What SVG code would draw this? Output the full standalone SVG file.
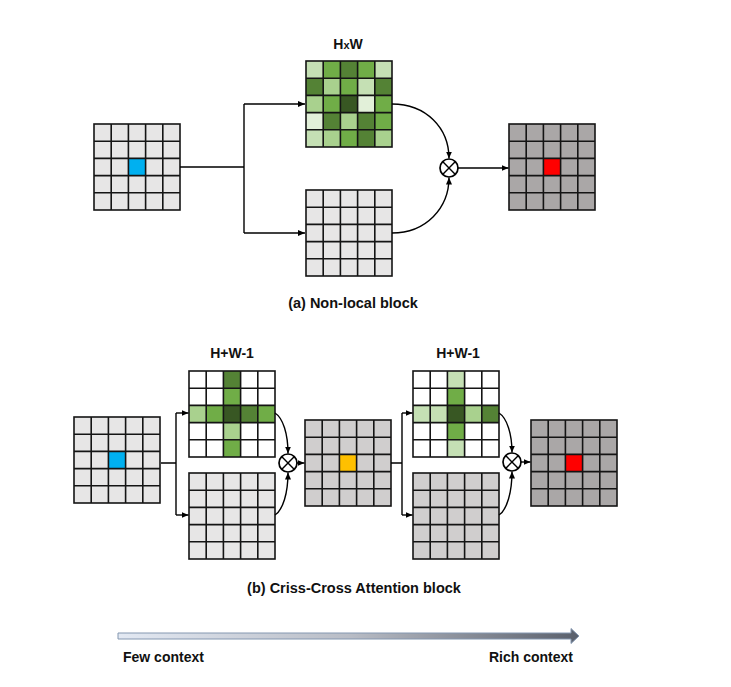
<svg xmlns="http://www.w3.org/2000/svg" xmlns:xlink="http://www.w3.org/1999/xlink" width="731" height="687" viewBox="0 0 731 687">
<style>
.gl{stroke:#141414;stroke-width:1.6;fill:none}
.c{stroke:#000;stroke-width:1.4;fill:none}
.op{stroke:#000;stroke-width:1.7;fill:#fff}
.t{font-family:"Liberation Sans",Arial,sans-serif;font-weight:bold;fill:#111}
.L{fill:#c5e0b4}.M{fill:#70ad47}.D{fill:#548235}.LM{fill:#a9d18e}.DD{fill:#385723}.VL{fill:#e2f0d9}
</style>
<defs>
<marker id="ah" markerWidth="7" markerHeight="6" refX="7" refY="3" orient="auto" markerUnits="userSpaceOnUse">
<path d="M0,0 L7,3 L0,6 Z" fill="#000"/>
</marker>
<linearGradient id="gr" x1="0" y1="0" x2="1" y2="0">
<stop offset="0" stop-color="#e3e9f3"/>
<stop offset="0.5" stop-color="#b9bdc6"/>
<stop offset="1" stop-color="#5a606c"/>
</linearGradient>
<g id="grid">
<rect x="0" y="0" width="86" height="86" class="gl"/>
<path class="gl" d="M17.2,0V86M34.4,0V86M51.6,0V86M68.8,0V86M0,17.2H86M0,34.4H86M0,51.6H86M0,68.8H86"/>
</g>
</defs>

<!-- Top: non-local block -->
<g id="top-input" transform="translate(94,124)">
<rect width="86" height="86" fill="#e7e6e6"/>
<rect x="34.4" y="34.4" width="17.2" height="17.2" fill="#00b0f0"/>
<use xlink:href="#grid"/>
</g>
<g id="top-attention" transform="translate(306,61)">
<rect class="L" x="0" y="0" width="17.2" height="17.2"/><rect class="M" x="17.2" y="0" width="17.2" height="17.2"/><rect class="D" x="34.4" y="0" width="17.2" height="17.2"/><rect class="M" x="51.6" y="0" width="17.2" height="17.2"/><rect class="L" x="68.8" y="0" width="17.2" height="17.2"/>
<rect class="D" x="0" y="17.2" width="17.2" height="17.2"/><rect class="LM" x="17.2" y="17.2" width="17.2" height="17.2"/><rect class="M" x="34.4" y="17.2" width="17.2" height="17.2"/><rect class="L" x="51.6" y="17.2" width="17.2" height="17.2"/><rect class="D" x="68.8" y="17.2" width="17.2" height="17.2"/>
<rect class="LM" x="0" y="34.4" width="17.2" height="17.2"/><rect class="M" x="17.2" y="34.4" width="17.2" height="17.2"/><rect class="DD" x="34.4" y="34.4" width="17.2" height="17.2"/><rect class="VL" x="51.6" y="34.4" width="17.2" height="17.2"/><rect class="M" x="68.8" y="34.4" width="17.2" height="17.2"/>
<rect class="VL" x="0" y="51.6" width="17.2" height="17.2"/><rect class="D" x="17.2" y="51.6" width="17.2" height="17.2"/><rect class="LM" x="34.4" y="51.6" width="17.2" height="17.2"/><rect class="D" x="51.6" y="51.6" width="17.2" height="17.2"/><rect class="M" x="68.8" y="51.6" width="17.2" height="17.2"/>
<rect class="L" x="0" y="68.8" width="17.2" height="17.2"/><rect class="LM" x="17.2" y="68.8" width="17.2" height="17.2"/><rect class="M" x="34.4" y="68.8" width="17.2" height="17.2"/><rect class="D" x="51.6" y="68.8" width="17.2" height="17.2"/><rect class="LM" x="68.8" y="68.8" width="17.2" height="17.2"/>
<use xlink:href="#grid"/>
</g>
<text class="t" x="348" y="49" font-size="14" text-anchor="middle">H<tspan font-size="11">x</tspan>W</text>
<g id="top-value" transform="translate(306,190)">
<rect width="86" height="86" fill="#e7e6e6"/>
<use xlink:href="#grid"/>
</g>
<g id="top-output" transform="translate(509,124)">
<rect width="86" height="86" fill="#aaa7a7"/>
<rect x="34.4" y="34.4" width="17.2" height="17.2" fill="#ff0000"/>
<use xlink:href="#grid"/>
</g>
<g id="top-mult">
<circle class="op" cx="449" cy="168" r="9"/>
<path class="c" stroke-width="1.6" d="M442.6,161.6L455.4,174.4M455.4,161.6L442.6,174.4"/>
</g>
<text class="t" x="353" y="308" font-size="14.5" text-anchor="middle">(a) Non-local block</text>

<!-- Bottom: criss-cross attention -->
<g id="cc-input" transform="translate(74,417)">
<rect width="86" height="86" fill="#e7e6e6"/>
<rect x="34.4" y="34.4" width="17.2" height="17.2" fill="#00b0f0"/>
<use xlink:href="#grid"/>
</g>
<g id="cc-attention-1" transform="translate(189,371)">
<rect width="86" height="86" fill="#fff"/>
<rect class="D" x="34.4" y="0" width="17.2" height="17.2"/>
<rect class="M" x="34.4" y="17.2" width="17.2" height="17.2"/>
<rect class="LM" x="0" y="34.4" width="17.2" height="17.2"/><rect class="M" x="17.2" y="34.4" width="17.2" height="17.2"/><rect class="DD" x="34.4" y="34.4" width="17.2" height="17.2"/><rect class="D" x="51.6" y="34.4" width="17.2" height="17.2"/><rect class="M" x="68.8" y="34.4" width="17.2" height="17.2"/>
<rect class="LM" x="34.4" y="51.6" width="17.2" height="17.2"/>
<rect class="M" x="34.4" y="68.8" width="17.2" height="17.2"/>
<use xlink:href="#grid"/>
</g>
<text class="t" x="232" y="358" font-size="14" text-anchor="middle">H+W-1</text>
<g id="cc-value-1" transform="translate(189,473)">
<rect width="86" height="86" fill="#e7e6e6"/>
<use xlink:href="#grid"/>
</g>
<g id="cc-mult-1">
<circle class="op" cx="288" cy="463" r="9"/>
<path class="c" stroke-width="1.6" d="M281.6,456.6L294.4,469.4M294.4,456.6L281.6,469.4"/>
</g>
<g id="cc-middle" transform="translate(305,420)">
<rect width="86" height="86" fill="#d0cece"/>
<rect x="34.4" y="34.4" width="17.2" height="17.2" fill="#ffc000"/>
<use xlink:href="#grid"/>
</g>
<g id="cc-attention-2" transform="translate(413,371)">
<rect width="86" height="86" fill="#fff"/>
<rect class="L" x="34.4" y="0" width="17.2" height="17.2"/>
<rect class="M" x="34.4" y="17.2" width="17.2" height="17.2"/>
<rect class="L" x="0" y="34.4" width="17.2" height="17.2"/><rect class="L" x="17.2" y="34.4" width="17.2" height="17.2"/><rect class="DD" x="34.4" y="34.4" width="17.2" height="17.2"/><rect class="LM" x="51.6" y="34.4" width="17.2" height="17.2"/><rect class="D" x="68.8" y="34.4" width="17.2" height="17.2"/>
<rect class="M" x="34.4" y="51.6" width="17.2" height="17.2"/>
<rect class="L" x="34.4" y="68.8" width="17.2" height="17.2"/>
<use xlink:href="#grid"/>
</g>
<text class="t" x="458" y="358" font-size="14" text-anchor="middle">H+W-1</text>
<g id="cc-value-2" transform="translate(413,473)">
<rect width="86" height="86" fill="#d0cece"/>
<use xlink:href="#grid"/>
</g>
<g id="cc-mult-2">
<circle class="op" cx="512" cy="462" r="9"/>
<path class="c" stroke-width="1.6" d="M505.6,455.6L518.4,468.4M518.4,455.6L505.6,468.4"/>
</g>
<g id="cc-output" transform="translate(531,420)">
<rect width="86" height="86" fill="#aaa7a7"/>
<rect x="34.4" y="34.4" width="17.2" height="17.2" fill="#ff0000"/>
<use xlink:href="#grid"/>
</g>
<text class="t" x="354" y="593" font-size="14.5" text-anchor="middle">(b) Criss-Cross Attention block</text>

<!-- Connectors -->
<g id="connectors">
<path class="c" d="M180,167H244M244,104V233"/>
<path class="c" d="M244,104H305" marker-end="url(#ah)"/>
<path class="c" d="M244,233H305" marker-end="url(#ah)"/>
<path class="c" d="M392,104C426,104 449,128 449,158.5" marker-end="url(#ah)"/>
<path class="c" d="M392,233C426,233 449,208 449,177.5" marker-end="url(#ah)"/>
<path class="c" d="M458,168H508.5" marker-end="url(#ah)"/>

<path class="c" d="M161,463H176M176,413V515"/>
<path class="c" d="M176,413H188.5" marker-end="url(#ah)"/>
<path class="c" d="M176,515H188.5" marker-end="url(#ah)"/>
<path class="c" d="M275,413C283,418 288,434 288,453.5" marker-end="url(#ah)"/>
<path class="c" d="M275,515C283,510 288,493 288,472.5" marker-end="url(#ah)"/>
<path class="c" d="M297,463H304.5" marker-end="url(#ah)"/>

<path class="c" d="M391,463H402M402,413V515"/>
<path class="c" d="M402,413H412.5" marker-end="url(#ah)"/>
<path class="c" d="M402,515H412.5" marker-end="url(#ah)"/>
<path class="c" d="M499,413C507,418 512,434 512,452.5" marker-end="url(#ah)"/>
<path class="c" d="M499,515C507,510 512,492 512,471.5" marker-end="url(#ah)"/>
<path class="c" d="M521,462H530.5" marker-end="url(#ah)"/>
</g>

<!-- Context arrow -->
<path d="M118,633H571V628.5L579,636L571,643.5V639H118Z" fill="url(#gr)" stroke="#8497b0" stroke-width="1"/>
<text class="t" x="123" y="662" font-size="14">Few context</text>
<text class="t" x="573" y="662" font-size="14" text-anchor="end">Rich context</text>
</svg>
